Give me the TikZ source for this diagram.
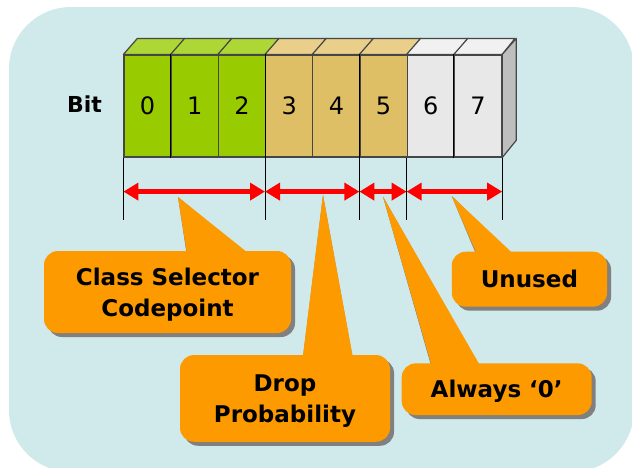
\documentclass[tikz,border=0pt]{standalone}
\usepackage{fontspec}
\setmainfont{DejaVu Sans}
\usetikzlibrary{arrows.meta,shadows,calc}

\definecolor{panelc}{RGB}{208,233,235}
\definecolor{greenf}{RGB}{153,204,0}
\definecolor{greent}{RGB}{172,215,52}
\definecolor{tanf}{RGB}{222,191,102}
\definecolor{tant}{RGB}{233,207,137}
\definecolor{grayf}{RGB}{232,232,232}
\definecolor{grayt}{RGB}{241,241,241}
\definecolor{grays}{RGB}{190,190,190}
\definecolor{edgec}{RGB}{70,70,70}
\definecolor{calloutc}{RGB}{252,154,0}
\definecolor{shadec}{RGB}{128,128,128}
\definecolor{dimred}{RGB}{255,0,0}

\pgfdeclarelayer{panel}
\pgfdeclarelayer{shade}
\pgfsetlayers{panel,shade,main}

\tikzset{
  bitface/.style={rectangle, draw=edgec, line width=1.2pt, minimum width=47.2pt,
    minimum height=102pt, inner sep=0pt, font=\fontsize{24}{24}\selectfont},
  bittop/.style={draw=edgec, line width=1.2pt, line join=round},
  sepline/.style={draw=black, line width=0.9pt},
  tickline/.style={draw=black, line width=1pt},
  dimarrow/.style={draw=dimred, line width=4.5pt,
    {Triangle[length=15pt,width=17pt]}-{Triangle[length=15pt,width=17pt]}},
  callout/.style={fill=calloutc, rounded corners=14pt, align=center, inner sep=0pt,
    text depth=0pt, font=\bfseries\fontsize{23}{31}\selectfont,
    drop shadow={shadow xshift=4pt, shadow yshift=-4pt, fill=shadec, opacity=1}},
  pointer/.style={fill=calloutc},
  pointershade/.style={fill=shadec, shift={(4,4)}}
}

\begin{document}
\begin{tikzpicture}[x=1pt,y=-1pt]
\useasboundingbox (0,0) rectangle (632,467);

% rounded backdrop
\begin{pgfonlayer}{panel}
  \fill[panelc, rounded corners=62pt] (9,7) rectangle (634,472);
\end{pgfonlayer}

% label of the row
\node[font=\bfseries\fontsize{22}{22}\selectfont] (bitlabel) at (84.5,104) {Bit};

% front faces of the eight bits
\foreach \i/\fc in {0/greenf,1/greenf,2/greenf,3/tanf,4/tanf,5/tanf,6/grayf,7/grayf}{
  \node[bitface, fill=\fc] (b\i) at ({147.6+47.2*\i},106) {\raisebox{1.5pt}{\i}};
}

% top faces
\foreach \i/\tc in {0/greent,1/greent,2/greent,3/tant,4/tant,5/tant,6/grayt,7/grayt}{
  \filldraw[bittop, fill=\tc] (b\i.north west) -- ++(14,-16) -- ++(47.2,0)
    -- (b\i.north east) -- cycle;
}

% right side of the last bit
\filldraw[bittop, fill=grays] (b7.north east) -- ++(14,-16) -- ++(0,102)
  -- (b7.south east) -- cycle;

% thin separators through the front faces
\foreach \i in {1,3,5,7}{
  \draw[sepline] (b\i.north west) -- (b\i.south west);
}

% dimension ticks below the field boundaries
\coordinate (k0) at ($(b0.south west)+(0,62)$);
\coordinate (k1) at ($(b3.south west)+(0,62)$);
\coordinate (k2) at ($(b5.south west)+(0,62)$);
\coordinate (k3) at ($(b6.south west)+(0,62)$);
\coordinate (k4) at ($(b7.south east)+(0,62)$);
\draw[tickline] (b0.south west) -- (k0);
\draw[tickline] (b3.south west) -- (k1);
\draw[tickline] (b5.south west) -- (k2);
\draw[tickline] (b6.south west) -- (k3);
\draw[tickline] (b7.south east) -- (k4);

% extent arrows
\coordinate (a0) at ($(b0.south west)+(0,34)$);
\coordinate (a1) at ($(b3.south west)+(0,34)$);
\coordinate (a2) at ($(b5.south west)+(0,34)$);
\coordinate (a3) at ($(b6.south west)+(0,34)$);
\coordinate (a4) at ($(b7.south east)+(0,34)$);
\draw[dimarrow] (a0) -- (a1);
\draw[dimarrow] (a1) -- (a2);
\draw[dimarrow] (a2) -- (a3);
\draw[dimarrow] (a3) -- (a4);

% pointer tips just under the arrows
\coordinate (pcs) at (178,197);
\coordinate (pdp) at (323,195);
\coordinate (paz) at (383,196.7);
\coordinate (pun) at (451.7,196);

% callout boxes
\node[callout, minimum width=247pt, minimum height=82pt] (cs) at (167.5,292)
  {Class Selector\\Codepoint};
\node[callout, minimum width=210pt, minimum height=86.7pt] (dp) at (285,398.4)
  {Drop\\Probability};
\node[callout, minimum width=190pt, minimum height=51.7pt] (az) at (496.7,389.2)
  {Always `0'};
\node[callout, minimum width=155.3pt, minimum height=55pt] (un) at (529.4,279.2)
  {Unused};

% pointer shadows
\begin{pgfonlayer}{shade}
  \fill[pointershade] (pcs) -- ($(cs.north west)+(143,4)$) -- ($(cs.north west)+(204,4)$) -- cycle;
  \fill[pointershade] (pdp) -- ($(dp.north west)+(123,4)$) -- ($(dp.north west)+(173,4)$) -- cycle;
  \fill[pointershade] (paz) -- ($(az.north west)+(30,4)$) -- ($(az.north west)+(78.3,4)$) -- cycle;
  \fill[pointershade] (pun) -- ($(un.north west)+(25,4)$) -- ($(un.north west)+(61.3,4)$) -- cycle;
\end{pgfonlayer}

% pointers
\fill[pointer] (pcs) -- ($(cs.north west)+(143,2)$) -- ($(cs.north west)+(204,2)$) -- cycle;
\fill[pointer] (pdp) -- ($(dp.north west)+(123,2)$) -- ($(dp.north west)+(173,2)$) -- cycle;
\fill[pointer] (paz) -- ($(az.north west)+(30,2)$) -- ($(az.north west)+(78.3,2)$) -- cycle;
\fill[pointer] (pun) -- ($(un.north west)+(25,2)$) -- ($(un.north west)+(61.3,2)$) -- cycle;
\end{tikzpicture}
\end{document}
